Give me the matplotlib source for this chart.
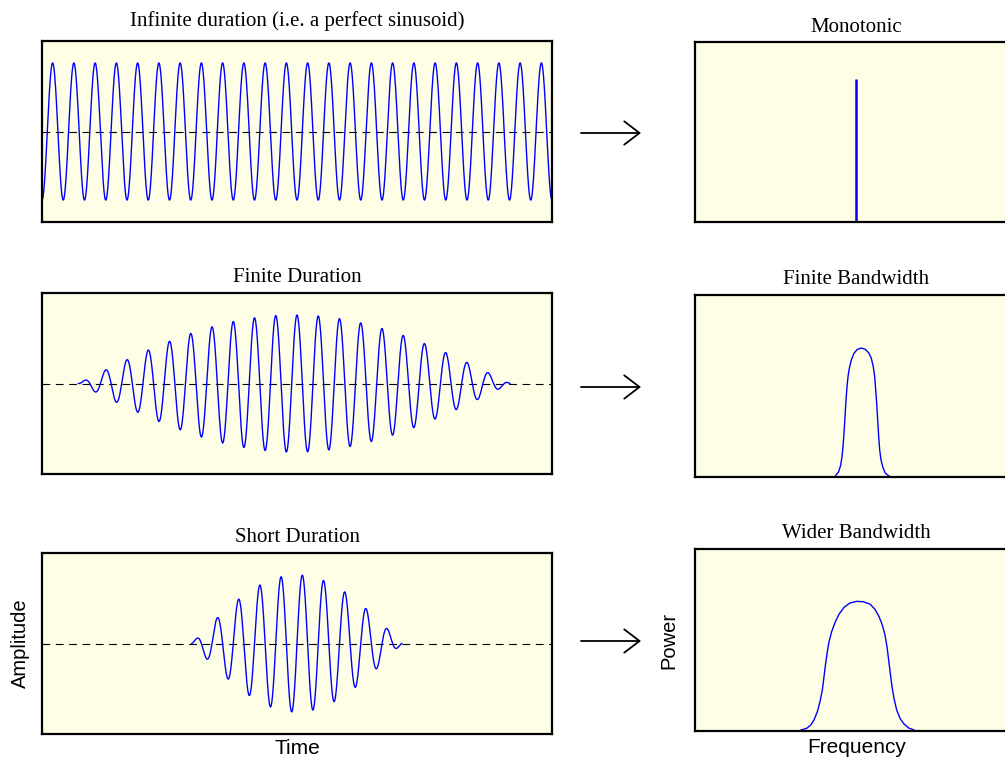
import numpy as np
import matplotlib
matplotlib.use("Agg")
import matplotlib.pyplot as plt
from matplotlib.patches import FancyArrowPatch

# ---------------- data ----------------
# time-domain panels: the carrier completes one cycle per time unit
time_titles = ["Infinite duration (i.e. a perfect sinusoid)", "Finite Duration", "Short Duration"]
time_range = [0.0, 24.0]                 # 24 cycles across each panel
burst_start = [0.0, 1.71, 7.04]          # where the wave starts
burst_end = [24.0, 22.02, 16.93]         # where the wave ends
carrier_peak = [0.5, 12.0, 12.25]        # time of one crest of the carrier
windowed = [False, True, True]           # half-sine envelope over the burst
peak_amplitude = [1.0, 1.0, 1.0]

# frequency-domain panels
freq_titles = ["Monotonic", "Finite Bandwidth", "Wider Bandwidth"]
freq_range = [0.0, 100.0]
mono_freq = 49.8
mono_power = 0.79

finite_freq = [43.44, 44.49, 45.11, 45.51, 45.82, 46.13, 46.44, 46.75, 47.06, 47.37,
               47.77, 48.39, 49.23, 50.25, 51.49, 52.72, 53.78, 54.58, 55.20, 55.63,
               55.94, 56.25, 56.56, 56.87, 57.18, 57.59, 58.20, 58.92, 60.06]
finite_power = [0.004, 0.028, 0.064, 0.110, 0.165, 0.239, 0.330, 0.422, 0.495, 0.550,
                0.596, 0.642, 0.679, 0.701, 0.708, 0.701, 0.682, 0.652, 0.605, 0.550,
                0.477, 0.404, 0.312, 0.220, 0.147, 0.092, 0.050, 0.019, 0.004]

wider_freq = [32.82, 34.57, 35.81, 36.84, 37.88, 38.70, 39.42, 39.94, 40.45, 40.97,
              41.49, 42.31, 43.34, 44.58, 46.13, 47.99, 50.05, 52.11, 54.18, 55.73,
              56.97, 57.99, 58.82, 59.44, 59.96, 60.47, 60.99, 61.61, 62.44, 63.47,
              64.71, 66.15, 67.80]
wider_power = [0.004, 0.013, 0.031, 0.059, 0.105, 0.160, 0.224, 0.298, 0.371, 0.436,
               0.491, 0.546, 0.596, 0.642, 0.680, 0.704, 0.713, 0.711, 0.698, 0.669,
               0.629, 0.583, 0.528, 0.463, 0.390, 0.316, 0.243, 0.178, 0.114, 0.068,
               0.037, 0.015, 0.004]

# ---------------- styling ----------------
W, H = 1005, 758
BG = "#fefee6"
BLUE = "#0000ff"
SERIF = ["Liberation Serif", "DejaVu Serif"]
SANS = ["Liberation Sans", "DejaVu Sans"]

fig = plt.figure(figsize=(W / 100, H / 100), dpi=100)


def px_axes(left, top, right, bottom):
    return fig.add_axes([left / W, 1 - bottom / H, (right - left) / W, (bottom - top) / H])


left_boxes = [(42, 41, 552, 222), (42, 293, 552, 474), (42, 553, 552, 734)]
right_boxes = [(695, 41.5, 1018, 222.3), (695, 295, 1018, 476.7), (695, 549.3, 1018, 730.7)]
left_title_pad = [11, 8, 8]
right_title_pad = [6.5, 8, 8]
arrow_y = [133, 387, 641]


def style(ax):
    ax.set_facecolor(BG)
    ax.set_xticks([])
    ax.set_yticks([])
    for s in ax.spines.values():
        s.set_linewidth(1.6)
        s.set_color("black")


# time-domain panels
for i, box in enumerate(left_boxes):
    ax = px_axes(*box)
    style(ax)
    t = np.linspace(burst_start[i], burst_end[i], 3000)
    carrier = np.cos(2 * np.pi * (t - carrier_peak[i]))
    if windowed[i]:
        env = np.sin(np.pi * (t - burst_start[i]) / (burst_end[i] - burst_start[i]))
    else:
        env = np.ones_like(t)
    ax.axhline(0, color="black", lw=0.8, dashes=(7, 5), zorder=1)
    ax.plot(t, peak_amplitude[i] * env * carrier, color=BLUE, lw=1.0, zorder=2)
    ax.set_xlim(*time_range)
    ax.set_ylim(-1.32, 1.32)
    ax.set_title(time_titles[i], family=SERIF, fontsize=15, pad=left_title_pad[i])
    if i == 2:
        ax.set_xlabel("Time", family=SANS, fontsize=15, labelpad=3.5)
        ax.set_ylabel("Amplitude", family=SANS, fontsize=14.5, labelpad=9)

# frequency-domain panels
for i, box in enumerate(right_boxes):
    ax = px_axes(*box)
    style(ax)
    if i == 0:
        ax.vlines(mono_freq, 0, mono_power, color=BLUE, lw=1.8)
    elif i == 1:
        ax.plot(finite_freq, finite_power, color=BLUE, lw=1.0)
    else:
        ax.plot(wider_freq, wider_power, color=BLUE, lw=1.0)
    ax.set_xlim(*freq_range)
    ax.set_ylim(0, 1)
    ax.set_title(freq_titles[i], family=SERIF, fontsize=15, pad=right_title_pad[i])
    if i == 2:
        ax.set_xlabel("Frequency", family=SANS, fontsize=15, labelpad=5)
        ax.set_ylabel("Power", family=SANS, fontsize=14.5, labelpad=12)

# arrows between the panels
for y in arrow_y:
    fig.add_artist(FancyArrowPatch(
        (581 / W, 1 - y / H), (641 / W, 1 - y / H), transform=fig.transFigure,
        arrowstyle="->,head_length=0.55,head_width=0.42", mutation_scale=20,
        shrinkA=0, shrinkB=0, color="black", lw=1.3))

fig.savefig("out.png", dpi=100)
